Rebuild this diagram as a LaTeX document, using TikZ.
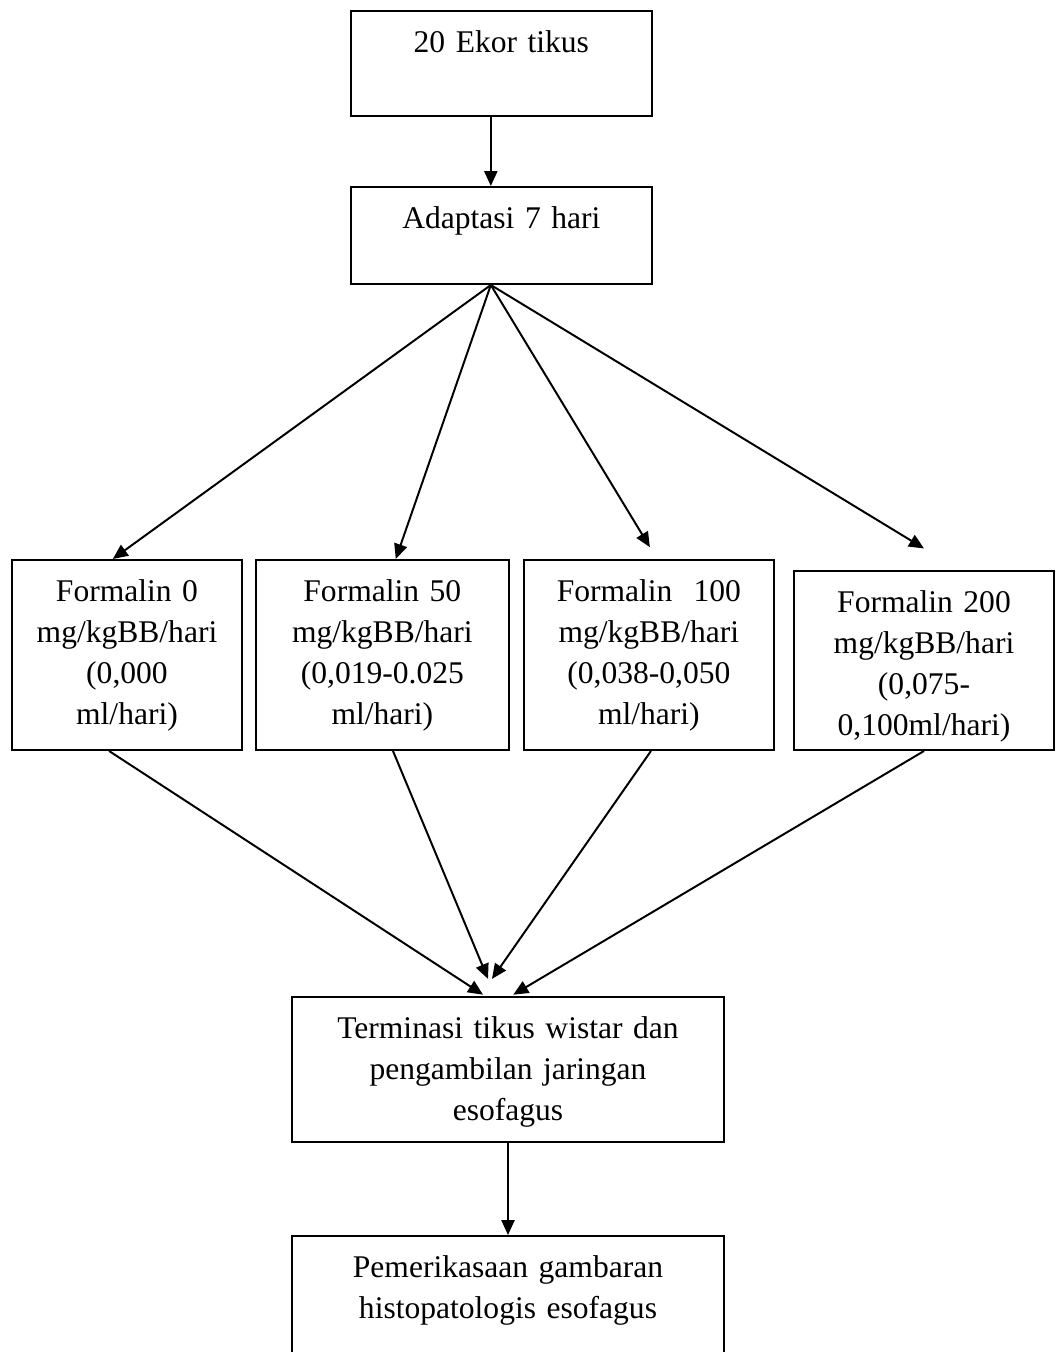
\documentclass[tikz,border=0pt]{standalone}
\usepackage{fontspec}
\setmainfont{Liberation Serif}
\usetikzlibrary{arrows.meta}

\begin{document}
\begin{tikzpicture}[
    node distance=97.09pt,
    box/.style={rectangle, draw, line width=0.75pt, inner sep=0pt, align=center,
        font=\fontsize{12pt}{15.6pt}\selectfont, text height=15.6pt},
    wide/.style={box, text width=114.56pt},
    dose/.style={box, text width=#1, text depth=56.65pt},
    longbox/.style={box, text width=164.26pt, text depth=39.54pt},
    arrow/.style={-{Triangle[length=5.7pt, width=5pt]}, line width=0.75pt}
]
\useasboundingbox (-190.63pt,24.14pt) rectangle (210.89pt,-489.93pt);

% Preparation
\node[wide, text depth=24.33pt] (b1) {20 Ekor tikus};
\node[wide, text depth=21.29pt, below of=b1, node distance=65.4pt] (b2) {Adaptasi 7 hari};
\coordinate (fan) at ([xshift=-4pt]b2.south);

% Treatment groups
\node[dose=96.31pt, below of=b2, node distance=159.51pt, xshift=-45.25pt] (f50) {Formalin 50\\mg/kgBB/hari\\(0,019-0.025\\ml/hari)};
\node[dose=87.45pt, left of=f50] (f0) {Formalin 0\\mg/kgBB/hari\\(0,000\\ml/hari)};
\node[dose=95.17pt, right of=f50, node distance=101.33pt] (f100) {Formalin~~100\\mg/kgBB/hari\\(0,038-0,050\\ml/hari)};
\node[dose=98.86pt, text depth=52.47pt, right of=f100, node distance=104.62pt, yshift=-2.09pt] (f200) {Formalin 200\\mg/kgBB/hari\\(0,075-\\0,100ml/hari)};

% Termination and examination
\node[longbox, below of=b2, node distance=317.11pt, xshift=2.53pt] (term) {Terminasi tikus wistar dan\\pengambilan jaringan\\esofagus};
\node[longbox, below of=term, node distance=90.88pt] (exam) {Pemerikasaan gambaran\\histopatologis esofagus};

% Arrows
\draw[arrow] ([xshift=-4pt]b1.south) -- ([xshift=-4pt]b2.north);
\draw[arrow] (fan) -- ([xshift=-5.4pt]f0.north);
\draw[arrow] (fan) -- ([xshift=5.1pt]f50.north);
\draw[arrow] (fan) -- ([xshift=0.4pt, yshift=4.5pt]f100.north);
\draw[arrow] (fan) -- ([yshift=8.2pt]f200.north);
\draw[arrow] ([xshift=-6.8pt]f0.south) -- ([xshift=-9.5pt, yshift=0.5pt]term.north);
\draw[arrow] ([xshift=4.05pt]f50.south) -- ([xshift=-7.6pt, yshift=6.5pt]term.north);
\draw[arrow] ([xshift=0.8pt]f100.south) -- ([xshift=-6.1pt, yshift=6.5pt]term.north);
\draw[arrow] (f200.south) -- ([xshift=2pt, yshift=0.5pt]term.north);
\draw[arrow] (term.south) -- (exam.north);
\end{tikzpicture}
\end{document}
